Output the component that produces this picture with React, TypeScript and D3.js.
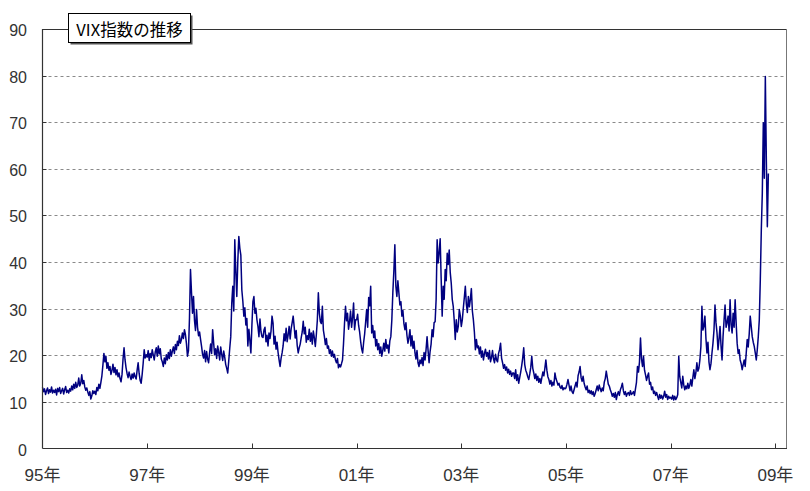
import React from "react";
import * as d3 from "d3";

// Weekly VIX readings, one array per year
const vix1995 = [13.1,12.2,12.8,11.6,12.4,13.0,11.8,12.6,12.1,13.2,11.9,12.5,12.0,
  12.7,11.5,12.9,12.2,13.1,11.8,12.4,12.9,11.7,12.6,13.3,12.0,12.5,
  11.9,12.8,12.3,13.4,12.6,13.8,12.9,14.2,13.1,13.6,15.1,13.4,14.0,
  15.8,13.9,14.6,13.2,12.5,13.0,12.1,11.4,12.2,10.6,11.3,12.4,11.8];
const vix1996 = [12.3,11.6,13.1,12.4,13.8,12.9,14.2,15.6,17.9,20.4,18.6,19.8,17.2,
  18.4,16.8,17.6,15.9,16.7,18.1,16.3,17.4,15.8,16.9,15.4,16.2,15.0,
  14.3,15.9,19.2,21.6,19.0,17.3,16.1,15.2,16.4,15.5,14.8,16.0,15.1,
  16.2,15.4,14.9,16.8,18.4,16.1,14.6,14.0,15.9,18.3,21.2,19.4,20.1];
const vix1997 = [19.6,21.0,18.9,20.4,19.5,21.2,20.1,19.0,20.7,21.6,19.8,22.0,20.3,
  21.4,19.2,18.6,17.6,19.4,18.2,20.1,19.0,20.6,19.3,21.2,19.8,20.9,
  21.8,20.4,22.3,21.2,23.0,22.1,24.2,22.6,23.4,24.8,23.6,25.5,24.4,
  22.5,19.8,21.0,28.0,38.4,33.5,29.0,32.6,27.4,25.3,29.8,26.0,24.2];
const vix1998 = [25.0,23.4,21.9,20.2,19.4,21.0,18.6,20.8,19.2,18.4,20.6,22.4,20.4,
  25.5,22.6,20.1,21.4,19.3,22.0,20.6,19.0,21.8,20.2,18.9,20.9,19.6,
  18.0,17.2,16.2,18.8,21.5,24.0,31.2,34.8,29.5,44.8,38.0,32.6,40.2,
  45.5,43.0,41.5,34.0,31.6,28.4,30.2,26.5,27.9,22.0,25.6,23.2,20.5];
const vix1999 = [26.4,31.5,32.6,29.0,30.1,27.6,26.2,24.0,27.8,25.1,24.0,23.8,25.4,
  26.0,22.9,24.3,22.0,24.8,23.6,25.2,28.4,26.9,22.4,24.1,21.3,22.8,
  20.6,19.0,17.6,19.4,20.5,22.0,24.6,23.1,25.8,22.9,24.4,26.2,23.5,
  25.7,27.0,28.4,26.1,23.7,25.3,22.1,20.5,21.6,22.4,23.8,25.0,27.3];
const vix2000 = [24.6,26.0,22.8,24.2,23.4,25.6,23.0,24.8,22.4,25.2,23.8,21.9,24.4,
  27.5,33.4,29.0,27.2,26.8,30.5,25.4,24.0,22.3,23.6,21.5,22.0,20.4,
  21.2,19.8,20.9,19.6,20.2,19.0,18.4,19.3,17.3,18.0,17.5,18.2,19.0,
  22.5,26.8,30.5,27.4,29.0,25.6,27.2,29.5,26.0,28.0,31.2,25.5,27.6];
const vix2001 = [27.6,28.8,26.4,25.0,23.0,21.4,20.5,22.8,24.6,27.2,29.8,26.0,32.4,
  30.6,34.8,24.8,26.4,23.8,25.2,22.0,23.4,21.2,22.5,20.4,21.8,19.8,
  21.0,22.6,20.9,23.4,21.5,22.2,20.5,23.1,24.0,27.6,33.5,38.0,43.7,
  34.8,32.6,36.0,33.4,30.8,31.5,28.4,29.6,26.8,25.5,27.0,24.3,22.6];
const vix2002 = [23.8,25.5,22.0,24.2,21.5,23.0,20.5,19.2,21.0,18.4,17.6,19.0,18.2,
  19.5,17.8,20.6,19.0,21.2,24.0,21.0,18.4,20.8,22.4,25.5,24.0,27.0,
  27.2,32.0,44.8,39.8,42.0,45.0,36.5,28.4,34.8,32.0,38.4,36.0,41.9,
  39.5,42.6,37.8,35.5,32.0,30.5,27.4,23.4,27.6,25.0,26.2,29.8,28.5];
const vix2003 = [26.2,27.6,30.1,32.4,34.8,31.0,29.2,32.6,30.4,32.0,34.3,29.5,27.6,
  25.0,21.2,23.4,21.6,22.0,20.3,21.8,19.6,20.9,19.0,20.4,21.3,19.8,
  20.6,19.2,21.0,18.6,19.5,21.0,19.2,18.4,20.2,19.0,18.6,20.4,21.2,
  22.6,19.4,18.4,17.2,18.0,16.8,17.5,16.2,17.0,15.9,16.6,15.5,16.2];
const vix2004 = [16.2,15.0,16.9,14.6,15.8,14.0,15.2,16.4,17.8,19.4,21.6,18.0,16.8,
  16.2,15.4,14.8,16.0,17.4,19.8,17.2,16.2,15.0,16.0,14.6,15.5,14.2,
  15.0,14.0,15.2,16.4,15.6,17.2,19.0,16.8,15.4,14.8,13.8,14.6,13.4,
  14.2,13.6,16.2,15.0,14.4,13.6,14.0,13.2,12.9,13.5,12.6,13.0,12.8];
const vix2005 = [13.0,13.8,14.8,13.6,12.4,13.4,12.2,11.8,12.6,13.4,14.2,13.2,15.6,
  16.4,17.6,15.2,14.4,15.5,14.0,13.2,12.6,13.4,12.0,12.5,11.8,12.4,
  11.6,12.2,11.2,11.8,12.6,13.4,12.4,13.6,12.8,12.2,13.0,12.4,14.2,
  15.0,16.6,15.2,13.8,13.4,12.6,12.0,11.2,11.8,11.0,12.0,10.5,11.6];
const vix2006 = [12.2,11.4,12.6,13.2,14.0,12.4,11.6,12.2,11.2,11.8,12.0,11.4,12.4,
  11.6,11.8,12.2,11.4,12.8,14.2,17.6,16.4,18.6,23.7,19.2,17.6,19.8,
  16.8,15.8,14.6,15.5,16.2,13.8,14.2,12.6,13.2,11.8,12.3,11.4,12.0,
  11.2,10.5,11.6,10.8,11.4,10.6,11.2,12.3,11.0,11.6,10.5,11.2,10.8];
const vix2007 = [11.0,10.6,11.4,10.4,11.2,10.5,10.9,11.6,19.8,15.4,14.2,13.0,15.5,
  13.6,12.6,13.4,12.8,14.0,12.9,13.6,14.8,13.4,15.2,16.9,15.0,16.2,
  18.4,16.6,17.2,19.0,21.9,30.5,25.4,26.2,28.4,23.6,20.5,22.8,18.6,
  16.9,18.2,20.5,22.6,25.4,30.8,27.0,24.8,21.2,23.4,26.2,22.0,19.0];
const vix2008 = [24.0,27.5,30.8,26.0,27.0,28.4,25.2,31.9,26.5,24.8,29.0,26.0,31.9,
  27.0,22.6,20.4,21.2,19.0,18.2,16.9,18.0,19.0,17.6,20.4,23.4,21.8,
  24.6,28.4,26.2,24.0,22.8,21.9,20.5,19.0,21.2,24.0,27.6,36.2,46.9,
  54.8,69.9,58.0,79.8,61.9,47.6,59.0];

const years = [1995,1996,1997,1998,1999,2000,2001,2002,2003,2004,2005,2006,2007,2008];
const yearly = [vix1995,vix1996,vix1997,vix1998,vix1999,vix2000,vix2001,vix2002,vix2003,vix2004,vix2005,vix2006,vix2007,vix2008];

const yTicks = [0,10,20,30,40,50,60,70,80,90];
const xTickYears = [1995,1997,1999,2001,2003,2005,2007,2009];
const xTickLabels = ["95年","97年","99年","01年","03年","05年","07年","09年"];
const title = "VIX指数の推移";

const W = 810, H = 491;
const L = 42.5, R = 787, T = 29, B = 448.5;

export default function App() {
  const x = d3.scaleLinear().domain([1995, 1995 + (R - L) / 52.35]).range([L, R]);
  const y = d3.scaleLinear().domain([0, 90]).range([B, T]);

  const pts: [number, number][] = [];
  years.forEach((yr, i) => {
    yearly[i].forEach((v, k) => pts.push([yr + k / 52, v]));
  });
  const line = d3.line<[number, number]>().x(d => x(d[0])).y(d => y(d[1]));

  const sans = "'Liberation Sans', 'Noto Sans CJK JP', sans-serif";

  return (
    <div style={{ position: "absolute", left: 0, top: 0 }}>
      <svg width={W} height={H} style={{ display: "block", background: "#fff" }}>
        <rect x={0} y={0} width={W} height={H} fill="#fff" />
        {/* gridlines */}
        {yTicks.filter(t => t > 0 && t < 90).map(t => (
          <line key={t} x1={L} x2={R} y1={Math.round(y(t)) + 0.5} y2={Math.round(y(t)) + 0.5}
            stroke="#8a8a8a" strokeWidth={1} strokeDasharray="3,3" />
        ))}
        {/* frame */}
        <line x1={L} x2={R} y1={T + 0.5} y2={T + 0.5} stroke="#333" strokeWidth={1} />
        <line x1={R - 0.5} x2={R - 0.5} y1={T} y2={B} stroke="#777" strokeWidth={1} />
        {/* y ticks and labels */}
        {yTicks.filter(t => t > 0).map(t => (
          <line key={t} x1={L} x2={L + 4} y1={Math.round(y(t)) + 0.5} y2={Math.round(y(t)) + 0.5} stroke="#333" />
        ))}
        {yTicks.map(t => (
          <text key={t} x={27} y={y(t) + 1.5} textAnchor="end" dominantBaseline="central"
            fontFamily={sans} fontSize={16} fill="#333">{t}</text>
        ))}
        {/* x ticks and labels */}
        {xTickYears.map((yr, i) => (
          <g key={yr}>
            {i > 0 && <line x1={Math.round(x(yr)) + 0.5} x2={Math.round(x(yr)) + 0.5} y1={B} y2={B - 5} stroke="#333" />}
            <text x={x(yr)} y={475} textAnchor="middle" dominantBaseline="central"
              fontFamily={sans} fontSize={17} fill="#333">{xTickLabels[i]}</text>
          </g>
        ))}
        {/* series */}
        <path d={line(pts) || ""} fill="none" stroke="#000080" strokeWidth={1.5} strokeLinejoin="round" />
        {/* axes */}
        <line x1={L} x2={L} y1={T} y2={B} stroke="#333" strokeWidth={1.2} />
        <line x1={L} x2={R} y1={B} y2={B} stroke="#333" strokeWidth={1.2} />
        {/* title box */}
        <rect x={70.5} y={15.5} width={122} height={29} fill="#555" />
        <rect x={68.5} y={13.5} width={122} height={29} fill="#fff" stroke="#000" strokeWidth={1} />
        <text x={129.5} y={29} textAnchor="middle" dominantBaseline="central"
          fontFamily="'Noto Sans CJK JP', sans-serif" fontSize={16.5} fill="#000">{title}</text>
      </svg>
    </div>
  );
}
